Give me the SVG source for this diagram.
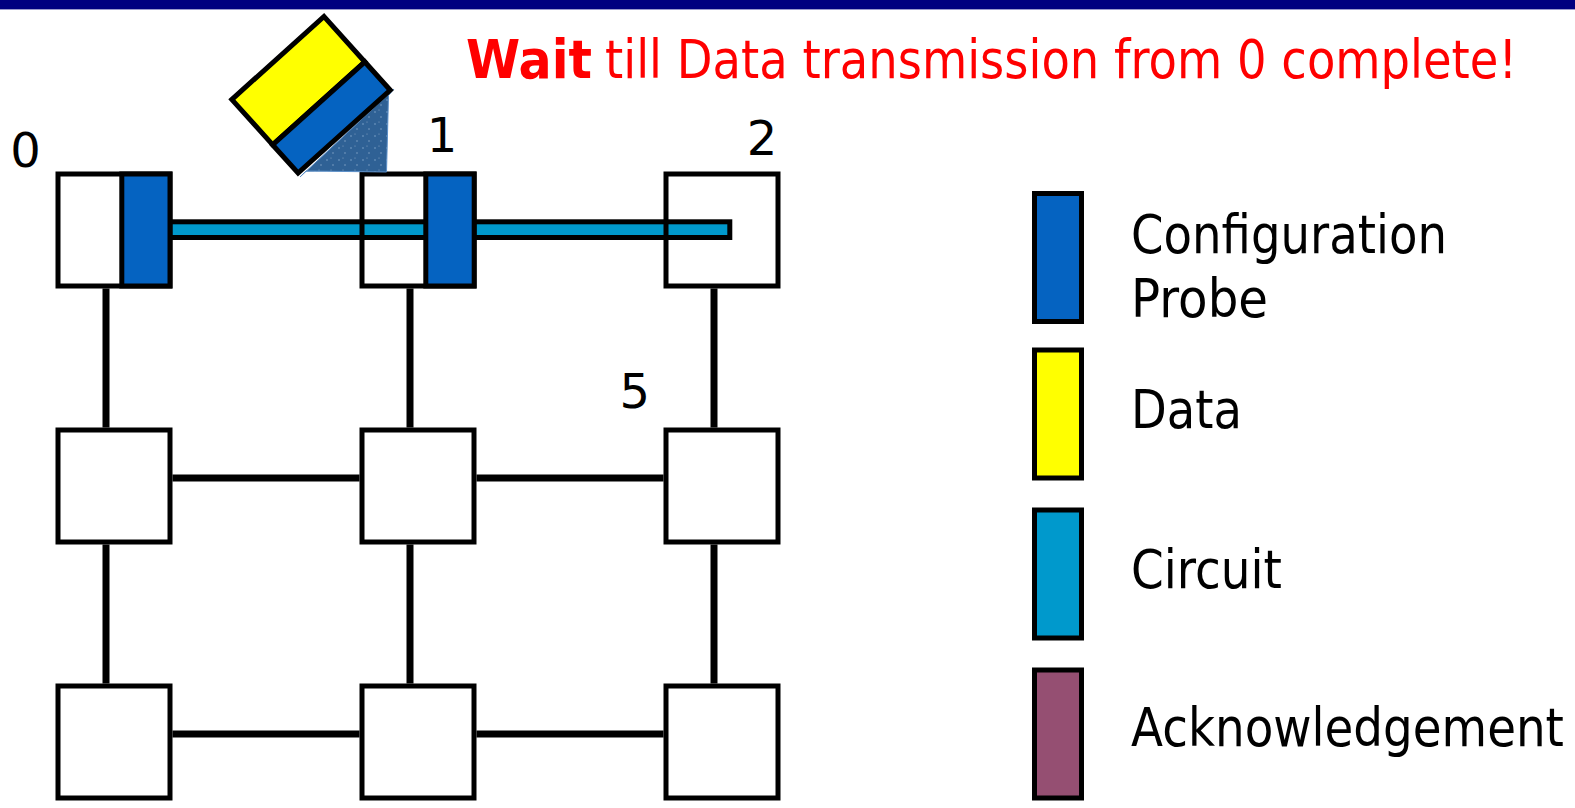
<svg xmlns="http://www.w3.org/2000/svg" width="1575" height="808" viewBox="0 0 1575 808">
  <defs>
    <style>
      .box { fill: none; stroke: #000; stroke-width: 5; }
      .probe { fill: #0563C1; stroke: #000; stroke-width: 5; }
      .data { fill: #FFFF00; stroke: #000; stroke-width: 5; }
      .circ { fill: #0099CC; stroke: #000; stroke-width: 5; }
      .ack { fill: #954F72; stroke: #000; stroke-width: 5; }
      .link { stroke: #000; stroke-width: 7; fill: none; }
      .lbl { font-family: "DejaVu Sans", "Liberation Sans", sans-serif; font-size: 48px; fill: #000; }
      .leg { font-family: "DejaVu Sans", "Liberation Sans", sans-serif; font-size: 53px; fill: #000; }
      .title { font-family: "DejaVu Sans", "Liberation Sans", sans-serif; font-size: 54px; fill: #FF0000; }
    </style>
    <pattern id="speck" width="12" height="12" patternUnits="userSpaceOnUse">
      <rect width="12" height="12" fill="#2F6195"/>
      <circle cx="3" cy="4" r="0.8" fill="#9FC0E0" opacity="0.7"/>
      <circle cx="9" cy="9" r="0.7" fill="#C8DDF0" opacity="0.6"/>
      <circle cx="7" cy="2" r="0.5" fill="#FFFFFF" opacity="0.5"/>
    </pattern>
  </defs>

  <rect x="0" y="0" width="1575" height="808" fill="#FFFFFF"/>
  <rect x="0" y="0" width="1575" height="9" fill="#000080"/>
  <rect x="0" y="9" width="1575" height="1" fill="#9A9ACC"/>

  <text class="title" transform="translate(466,78) scale(0.896,1)" font-weight="bold" textLength="140.6" lengthAdjust="spacingAndGlyphs">Wait</text>
  <text class="title" transform="translate(605,78) scale(0.86,1)" textLength="1060.5" lengthAdjust="spacingAndGlyphs">till Data transmission from 0 complete!</text>

  <g id="connectors">
    <line class="link" x1="106" y1="288.5" x2="106" y2="427.5"/>
    <line class="link" x1="410" y1="288.5" x2="410" y2="427.5"/>
    <line class="link" x1="714" y1="288.5" x2="714" y2="427.5"/>
    <line class="link" x1="106" y1="544.5" x2="106" y2="683.5"/>
    <line class="link" x1="410" y1="544.5" x2="410" y2="683.5"/>
    <line class="link" x1="714" y1="544.5" x2="714" y2="683.5"/>
    <line class="link" x1="172.5" y1="478" x2="359.5" y2="478"/>
    <line class="link" x1="476.5" y1="478" x2="663.5" y2="478"/>
    <line class="link" x1="172.5" y1="734" x2="359.5" y2="734"/>
    <line class="link" x1="476.5" y1="734" x2="663.5" y2="734"/>
    <line class="link" x1="172.5" y1="229" x2="359.5" y2="229"/>
    <line class="link" x1="476.5" y1="229" x2="663.5" y2="229"/>
    <rect id="circuit" class="circ" x="168" y="221.8" width="561.8" height="15.7"/>
  </g>

  <g id="node0">
    <rect class="box" x="58" y="174" width="112" height="112"/>
    <rect class="probe" x="121.8" y="174" width="48.2" height="112"/>
    <text class="lbl" x="25.5" y="167" text-anchor="middle">0</text>
  </g>
  <g id="node1">
    <rect class="box" x="362" y="174" width="112" height="112"/>
    <rect class="probe" x="425.8" y="174" width="48.4" height="112"/>
    <text class="lbl" x="442" y="152" text-anchor="middle">1</text>
  </g>
  <g id="node2">
    <rect class="box" x="666" y="174" width="112" height="112"/>
    <text class="lbl" x="762" y="154.5" text-anchor="middle">2</text>
  </g>
  <g id="node3"><rect class="box" x="58" y="430" width="112" height="112"/></g>
  <g id="node4"><rect class="box" x="362" y="430" width="112" height="112"/></g>
  <g id="node5">
    <rect class="box" x="666" y="430" width="112" height="112"/>
    <text class="lbl" x="634.7" y="407.5" text-anchor="middle">5</text>
  </g>
  <g id="node6"><rect class="box" x="58" y="686" width="112" height="112"/></g>
  <g id="node7"><rect class="box" x="362" y="686" width="112" height="112"/></g>
  <g id="node8"><rect class="box" x="666" y="686" width="112" height="112"/></g>

  <g id="packet">
    <polygon points="394,89 388.5,95.5 386.5,172 306,171 300,177" fill="url(#speck)" stroke="#5B8FC8" stroke-width="1"/>
    <g transform="translate(228.3,99.3) rotate(-42)">
      <rect class="data" x="2.5" y="2.5" width="124" height="61"/>
      <rect class="probe" x="2.5" y="63.5" width="124" height="38"/>
    </g>
  </g>

  <g id="legend">
    <rect class="probe" x="1034.5" y="193.5" width="47" height="128"/>
    <text class="leg" transform="translate(1131,252.7) scale(0.88,1)" textLength="359" lengthAdjust="spacingAndGlyphs">Configuration</text>
    <text class="leg" transform="translate(1131,316.7) scale(0.88,1)" textLength="155.7" lengthAdjust="spacingAndGlyphs">Probe</text>
    <rect class="data" x="1034.5" y="350" width="47" height="128"/>
    <text class="leg" transform="translate(1131,428.3) scale(0.88,1)" textLength="126" lengthAdjust="spacingAndGlyphs">Data</text>
    <rect class="circ" x="1034.5" y="510" width="47" height="128"/>
    <text class="leg" transform="translate(1131,588.3) scale(0.88,1)" textLength="171.6" lengthAdjust="spacingAndGlyphs">Circuit</text>
    <rect class="ack" x="1034.5" y="670" width="47" height="128"/>
    <text class="leg" transform="translate(1131,745.7) scale(0.88,1)" textLength="492" lengthAdjust="spacingAndGlyphs">Acknowledgement</text>
  </g>
</svg>
